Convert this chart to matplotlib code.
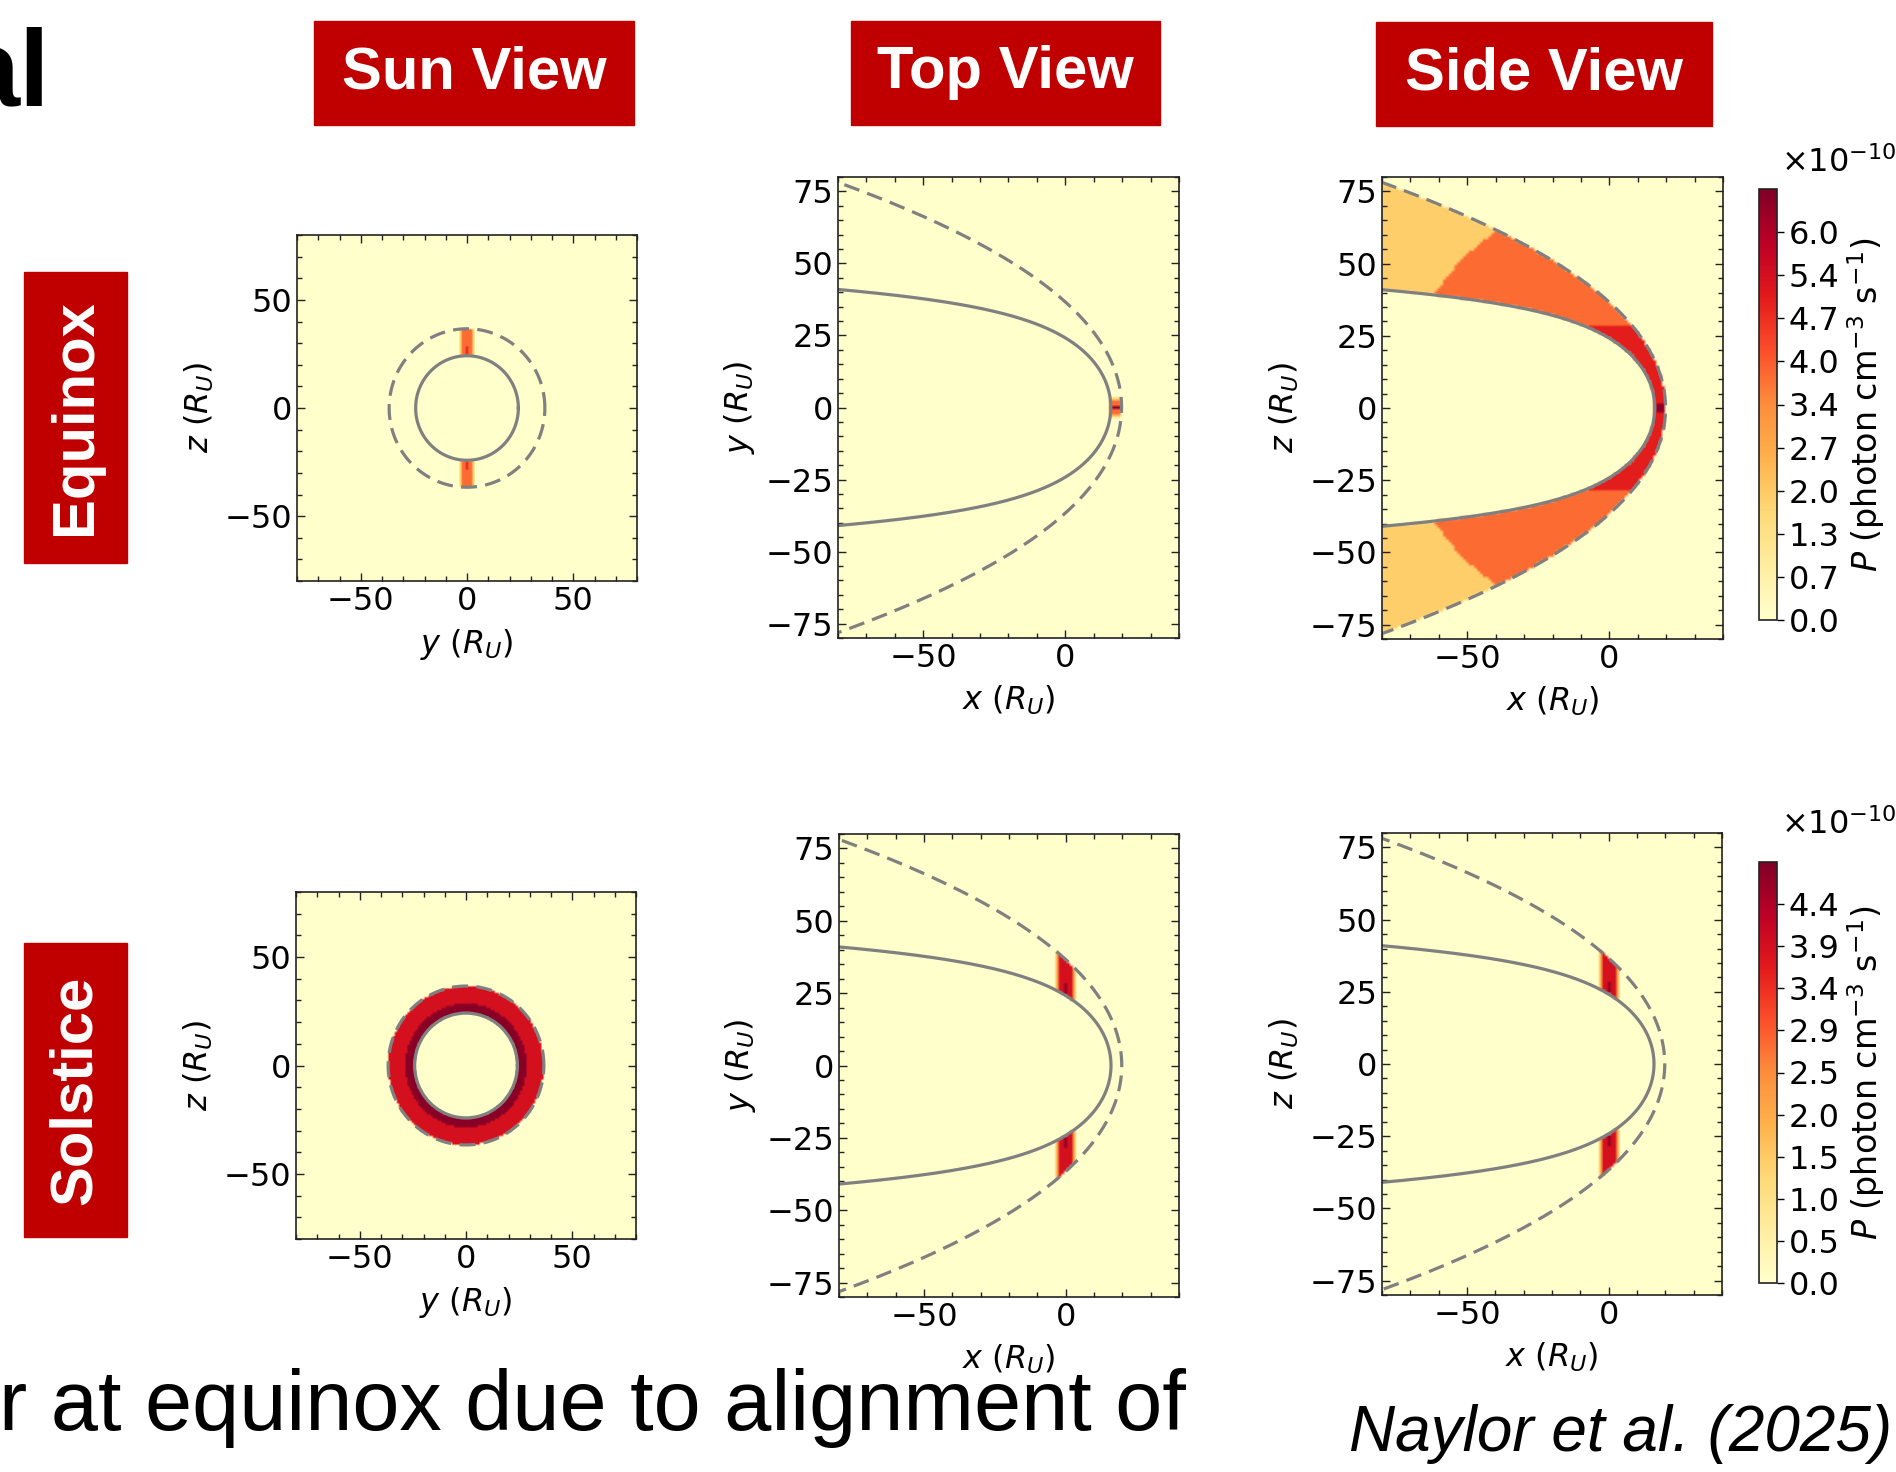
import numpy as np
import matplotlib
matplotlib.use("Agg")
import matplotlib.pyplot as plt
from matplotlib.patches import Rectangle
from matplotlib.ticker import MultipleLocator, FormatStrFormatter

W, H = 1896, 1472

# Boundary surfaces, Shue-type form r = r0 * (2 / (1 + cos(theta)))**alpha  [R_U]
MP_PARAMS = [16.0, 0.595]   # magnetopause (r0, alpha)
BS_PARAMS = [19.8, 0.888]   # bow shock (r0, alpha)

# Equinox emissivity levels [1e-10 photon cm^-3 s^-1]: tail, flank, subsolar band, nose core
EQX_LEVELS = [1.9, 3.8, 5.0, 6.5]
EQX_BAND_Z = 28.5        # half-height of the subsolar band
EQX_FLANK_R = 73.0       # radius separating flank from tail
EQX_NOSE = [18.0, 1.6]   # nose-core centre x and radius

# Solstice emissivity levels: outer sheath, inner sheath
SOL_LEVELS = [3.9, 4.8]
SOL_INNER_RHO = 28.5

# Emission slab profile across its thickness (node offset -> treatment)
SLAB_OFFSETS = [0, 1, 2, 3]
SLAB_SCALE = [1.0, 1.0, 1.0, 0.5]
SLAB_CAPPED = [False, True, True, True]

# Colour-bar maxima for the two seasons
CBAR_MAX = [6.72, 4.9]

GRID = np.arange(-80, 81)
GRID_X = np.arange(-80, 41)

FS_TICK = 23
FS_LABEL = 23


def shue(theta, r0, alpha):
    c = np.clip(1.0 + np.cos(theta), 1e-9, None)
    return r0 * (2.0 / c) ** alpha


def sheath_mask(x, rho):
    r = np.hypot(x, rho)
    th = np.arctan2(rho, x)
    return ((r >= shue(th, *MP_PARAMS)) & (r <= shue(th, *BS_PARAMS))).astype(float)


def slab(s, v, cap):
    a = np.abs(np.rint(s))
    out = np.zeros_like(v, dtype=float)
    for off, sc, capped in zip(SLAB_OFFSETS, SLAB_SCALE, SLAB_CAPPED):
        val = np.minimum(v, cap) if capped else v
        out = np.where(a == off, sc * val, out)
    return out


def equinox_field(x, y, z):
    x, y, z = np.broadcast_arrays(x, y, z)
    tail, flank, band, nose = EQX_LEVELS
    v = np.where(np.hypot(x, z) < EQX_FLANK_R, flank, tail)
    v = np.where(np.abs(z) < EQX_BAND_Z, band, v)
    v = np.where(np.hypot(x - EQX_NOSE[0], z) < EQX_NOSE[1], nose, v)
    v = v * sheath_mask(x, np.hypot(y, z))
    return slab(y, v, flank)


def solstice_field(x, y, z):
    x, y, z = np.broadcast_arrays(x, y, z)
    outer, inner = SOL_LEVELS
    rho = np.hypot(y, z)
    v = np.where(rho < SOL_INNER_RHO, inner, outer) * sheath_mask(x, rho)
    return slab(x, v, outer)


def px_axes(fig, l, t, r, b):
    return fig.add_axes([l / W, 1 - b / H, (r - l) / W, (b - t) / H])


LINE_KW = dict(color="#808080", lw=2.3)
DASH = (0, (5, 2.6))


def style(ax, xmaj, xmin, ymaj, ymin):
    ax.xaxis.set_major_locator(MultipleLocator(xmaj))
    ax.xaxis.set_minor_locator(MultipleLocator(xmin))
    ax.yaxis.set_major_locator(MultipleLocator(ymaj))
    ax.yaxis.set_minor_locator(MultipleLocator(ymin))
    ax.tick_params(which="both", direction="in", top=True, right=True,
                   labelsize=FS_TICK, width=1.0, color="#222222")
    ax.tick_params(which="major", length=5.5)
    ax.tick_params(which="minor", length=3.5)
    for sp in ax.spines.values():
        sp.set_linewidth(1.2)
        sp.set_color("#222222")


def boundary_curve(params):
    th = np.linspace(0, np.radians(176), 800)
    r = shue(th, *params)
    x, y = r * np.cos(th), r * np.sin(th)
    return np.concatenate([x[::-1], x[1:]]), np.concatenate([-y[::-1], y[1:]])


def show(ax, data, xs, ys, vmax):
    return ax.imshow(data, origin="lower", cmap="YlOrRd", vmin=0, vmax=vmax,
                     extent=(xs[0] - 0.5, xs[-1] + 0.5, ys[0] - 0.5, ys[-1] + 0.5),
                     interpolation="bilinear", aspect="auto")


def sun_panel(ax, field, vmax):
    Y, Z = np.meshgrid(GRID, GRID)
    show(ax, field(0.0, Y, Z), GRID, GRID, vmax)
    t = np.linspace(0, 2 * np.pi, 400)
    for params, ls in ((MP_PARAMS, "-"), (BS_PARAMS, DASH)):
        R = shue(np.pi / 2, *params)
        ax.plot(R * np.cos(t), R * np.sin(t), ls=ls, **LINE_KW)
    ax.set_xlim(-80, 80)
    ax.set_ylim(-80, 80)
    style(ax, 50, 10, 50, 10)
    ax.set_xlabel(r"$y$ ($R_U$)", fontsize=FS_LABEL, labelpad=7)
    ax.set_ylabel(r"$z$ ($R_U$)", fontsize=FS_LABEL, labelpad=6)


def xy_panel(ax, data, vmax, ylab):
    im = show(ax, data, GRID_X, GRID, vmax)
    for params, ls in ((MP_PARAMS, "-"), (BS_PARAMS, DASH)):
        cx, cy = boundary_curve(params)
        ax.plot(cx, cy, ls=ls, **LINE_KW)
    ax.set_xlim(-80, 40)
    ax.set_ylim(-80, 80)
    style(ax, 50, 10, 25, 5)
    ax.set_xlabel(r"$x$ ($R_U$)", fontsize=FS_LABEL, labelpad=7)
    ax.set_ylabel(ylab, fontsize=FS_LABEL, labelpad=6)
    return im


def colorbar(fig, im, cax, vmax, top_px):
    cb = fig.colorbar(im, cax=cax)
    cb.set_ticks(np.arange(10) * vmax / 10)
    cb.ax.yaxis.set_major_formatter(FormatStrFormatter("%.1f"))
    cb.ax.tick_params(labelsize=FS_TICK, length=5, width=1.0, direction="out")
    cb.outline.set_linewidth(1.2)
    cb.outline.set_edgecolor("#222222")
    cb.set_label(r"$P$ (photon cm$^{-3}$ s$^{-1}$)", fontsize=24, labelpad=4)
    fig.text(1781 / W, 1 - top_px / H, r"$\times 10^{-10}$", fontsize=23,
             ha="left", va="baseline")


fig = plt.figure(figsize=(W / 100, H / 100), dpi=100)

# Row 1: equinox
ax = px_axes(fig, 297, 235, 637, 581)
sun_panel(ax, equinox_field, CBAR_MAX[0])
X, Yg = np.meshgrid(GRID_X, GRID)
ax = px_axes(fig, 838, 177, 1179, 638)
xy_panel(ax, equinox_field(X, Yg, 0.0), CBAR_MAX[0], r"$y$ ($R_U$)")
ax = px_axes(fig, 1382, 177, 1723, 639)
im = xy_panel(ax, equinox_field(X, 0.0, Yg), CBAR_MAX[0], r"$z$ ($R_U$)")
colorbar(fig, im, px_axes(fig, 1759, 189, 1777, 620), CBAR_MAX[0], 172)

# Row 2: solstice
ax = px_axes(fig, 296, 892, 636, 1239)
sun_panel(ax, solstice_field, CBAR_MAX[1])
ax = px_axes(fig, 839, 834, 1179, 1297)
xy_panel(ax, solstice_field(X, Yg, 0.0), CBAR_MAX[1], r"$y$ ($R_U$)")
ax = px_axes(fig, 1382, 833, 1722, 1295)
im = xy_panel(ax, solstice_field(X, 0.0, Yg), CBAR_MAX[1], r"$z$ ($R_U$)")
colorbar(fig, im, px_axes(fig, 1759, 862, 1777, 1283), CBAR_MAX[1], 834)

# Header and row tags
BOX_RED = "#c00000"
TAG_FONT = dict(family="Liberation Sans", weight="bold", color="white", fontsize=43)
for label, (l, t, r, b) in (("Sun View", (314, 21, 634, 125)),
                            ("Top View", (851, 21, 1160, 125)),
                            ("Side View", (1376, 22, 1712, 126))):
    fig.patches.append(Rectangle((l / W, 1 - b / H), (r - l) / W, (b - t) / H,
                                 transform=fig.transFigure, color=BOX_RED))
    fig.text((l + r) / 2 / W, 1 - (t + b) / 2 / H, label, ha="center", va="center",
             **TAG_FONT)
for label, (l, t, r, b) in (("Equinox", (24, 272, 127, 563)),
                            ("Solstice", (24, 943, 127, 1237))):
    fig.patches.append(Rectangle((l / W, 1 - b / H), (r - l) / W, (b - t) / H,
                                 transform=fig.transFigure, color=BOX_RED))
    fig.text((l + r) / 2 / W, 1 - (t + b) / 2 / H, label, ha="center", va="center",
             rotation=90, **TAG_FONT)

fig.text(50 / W, 1 - 106 / H, "al", family="Liberation Sans", weight="bold",
         fontsize=79, ha="right", va="baseline")
fig.text(1186 / W, 1 - 1430 / H, "r at equinox due to alignment of",
         family="Liberation Sans", fontsize=61, ha="right", va="baseline")
fig.text(1892 / W, 1 - 1451 / H, "Naylor et al. (2025)", family="Liberation Sans",
         style="italic", fontsize=46, ha="right", va="baseline")

fig.savefig("out.png", dpi=100)
